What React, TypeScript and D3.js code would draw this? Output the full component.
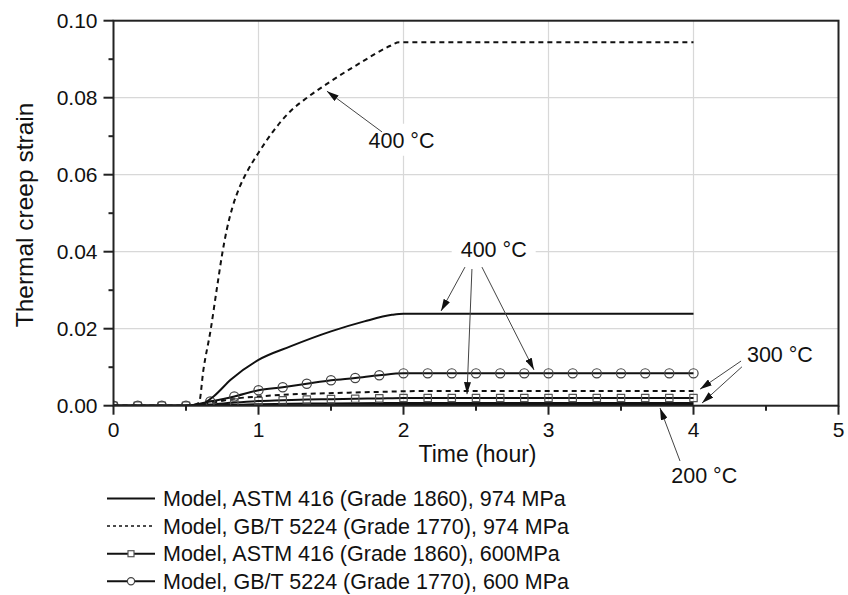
import React from "react";
import * as d3 from "d3";

// ---------- data ----------
// ASTM 416, 974 MPa, 400 °C (solid)
const astm974_400_x = [0, 0.55, 0.6, 0.69, 0.81, 1.0, 1.22, 1.5, 1.73, 1.92, 2.0, 4.0];
const astm974_400_y = [0, 0, 0.0002, 0.0024, 0.0068, 0.0119, 0.0154, 0.0193, 0.0219, 0.0236, 0.0239, 0.0239];
// GB/T 5224, 974 MPa, 400 °C (dashed)
const gbt974_400_x = [0, 0.5, 0.55, 0.59, 0.62, 0.67, 0.715, 0.75, 0.78, 0.82, 0.87, 0.92, 1.0, 1.1, 1.22, 1.335, 1.5, 1.7, 1.91, 1.97, 4.0];
const gbt974_400_y = [0, 0, 0.0002, 0.0008, 0.0093, 0.0197, 0.031, 0.0395, 0.0455, 0.0515, 0.0568, 0.0607, 0.0657, 0.0712, 0.0765, 0.08, 0.0843, 0.089, 0.0935, 0.0944, 0.0944];
// GB/T 5224, 974 MPa, 300 °C (dashed)
const gbt974_300_x = [0, 0.55, 0.7, 0.83, 1.0, 1.15, 1.54, 1.84, 2.1, 4.0];
const gbt974_300_y = [0, 0, 0.0009, 0.0018, 0.0024, 0.0028, 0.0033, 0.0036, 0.0038, 0.0038];
// ASTM 416, 974 MPa, 300 °C (solid)
const astm974_300_x = [0, 0.6, 1.0, 1.5, 2.0, 4.0];
const astm974_300_y = [0, 0, 0.0004, 0.0006, 0.0007, 0.0007];
// ASTM 416, 974 MPa, 200 °C (solid)
const astm974_200_x = [0, 0.6, 2.0, 4.0];
const astm974_200_y = [0, 0, 0.0002, 0.0002];
// marker series sample times (hours)
const markerTimes = [0, 0.167, 0.333, 0.5, 0.667, 0.833, 1.0, 1.167, 1.333, 1.5, 1.667, 1.833, 2.0, 2.167, 2.333, 2.5, 2.667, 2.833, 3.0, 3.167, 3.333, 3.5, 3.667, 3.833, 4.0];
// ASTM 416, 600 MPa, 400 °C (squares)
const astm600_y = [0, 0, 0, 0, 0.0003, 0.0008, 0.0012, 0.0014, 0.0016, 0.0017, 0.0018, 0.0019, 0.002, 0.002, 0.002, 0.002, 0.002, 0.002, 0.002, 0.002, 0.002, 0.002, 0.002, 0.002, 0.002];
// GB/T 5224, 600 MPa, 400 °C (circles)
const gbt600_y = [0, 0, 0, 0, 0.0011, 0.0024, 0.004, 0.0048, 0.0057, 0.0066, 0.0072, 0.0079, 0.0084, 0.0084, 0.0084, 0.0084, 0.0084, 0.0084, 0.0084, 0.0084, 0.0084, 0.0084, 0.0084, 0.0084, 0.0084];

const xTickValues = [0, 1, 2, 3, 4, 5];
const xTickLabels = ["0", "1", "2", "3", "4", "5"];
const xMinorTicks = [0.5, 1.5, 2.5, 3.5, 4.5];
const yTickValues = [0, 0.02, 0.04, 0.06, 0.08, 0.1];
const yTickLabels = ["0.00", "0.02", "0.04", "0.06", "0.08", "0.10"];
const yMinorTicks = [0.01, 0.03, 0.05, 0.07, 0.09];

const legendLabels = [
  "Model, ASTM 416 (Grade 1860), 974 MPa",
  "Model, GB/T 5224 (Grade 1770), 974 MPa",
  "Model, ASTM 416 (Grade 1860), 600MPa",
  "Model, GB/T 5224 (Grade 1770), 600 MPa",
];

// annotations in data units: label, text centre (x, baseline y), arrows [fromX, fromY, toX, toY]
const annoLabels = ["400 °C", "400 °C", "300 °C", "200 °C"];
const annoTextX = [1.986, 2.622, 4.596, 4.074];
const annoTextY = [0.067, 0.0387, 0.01125, -0.0202];
const annoArrows = [
  [[1.852, 0.0711, 1.472, 0.0817]],
  [
    [2.424, 0.036, 2.259, 0.0246],
    [2.472, 0.0355, 2.438, 0.003],
    [2.541, 0.036, 2.9, 0.0093],
  ],
  [
    [4.328, 0.0116, 4.045, 0.0043],
    [4.334, 0.0101, 4.059, 0.0007],
  ],
  [[3.907, -0.01436, 3.769, -0.0006]],
];

// ---------- layout ----------
const W = 848;
const H = 595;
const L = 113.5;
const R = 838.5;
const T = 20.7;
const B = 405.7;
const FONT = "'Liberation Sans', Arial, Helvetica, sans-serif";

const zip = (xs: number[], ys: number[]) => xs.map((x, i) => [x, ys[i]] as [number, number]);

export default function App() {
  const x = d3.scaleLinear().domain([0, 5]).range([L, R]);
  const y = d3.scaleLinear().domain([0, 0.1]).range([B, T]);
  const line = d3
    .line<[number, number]>()
    .x((d) => x(d[0]))
    .y((d) => y(d[1]))
    .curve(d3.curveMonotoneX);

  const squares = zip(markerTimes, astm600_y);
  const circles = zip(markerTimes, gbt600_y);

  const legendY0 = 498.5;
  const legendDy = 27.6;

  return (
    <svg
      width={W}
      height={H}
      style={{ position: "absolute", left: 0, top: 0, background: "#fff" }}
      fontFamily={FONT}
    >
      <defs>
        <clipPath id="plotclip">
          <rect x={L} y={T} width={R - L} height={B - T} />
        </clipPath>
        <marker
          id="ah"
          viewBox="0 0 12 7"
          refX={12}
          refY={3.5}
          markerWidth={12}
          markerHeight={7}
          markerUnits="userSpaceOnUse"
          orient="auto"
        >
          <path d="M0,0L12,3.5L0,7z" fill="#111" />
        </marker>
      </defs>
      <rect x={0} y={0} width={W} height={H} fill="#fff" />

      {/* grid */}
      <g stroke="#d8d8d8" strokeWidth={1.2}>
        {xTickValues.slice(1, -1).map((v) => (
          <line key={"gx" + v} x1={x(v)} x2={x(v)} y1={T} y2={B} />
        ))}
        {yTickValues.slice(1, -1).map((v) => (
          <line key={"gy" + v} x1={L} x2={R} y1={y(v)} y2={y(v)} />
        ))}
      </g>

      {/* series */}
      <g clipPath="url(#plotclip)" fill="none" strokeLinejoin="round">
        <path d={line(zip(astm974_200_x, astm974_200_y)) || ""} stroke="#111" strokeWidth={2} />
        <path d={line(zip(astm974_300_x, astm974_300_y)) || ""} stroke="#111" strokeWidth={2} />
        <path d={line(zip(gbt974_300_x, gbt974_300_y)) || ""} stroke="#111" strokeWidth={2} strokeDasharray="5,4" />
        <path d={line(squares) || ""} stroke="#111" strokeWidth={2} />
        {squares.map((d, i) => (
          <rect
            key={"s" + i}
            x={x(d[0]) - 3.7}
            y={y(d[1]) - 3.7}
            width={7.4}
            height={7.4}
            fill="none"
            stroke="#555"
            strokeWidth={1.2}
          />
        ))}
        <path d={line(circles) || ""} stroke="#111" strokeWidth={2} />
        {circles.map((d, i) => (
          <circle key={"c" + i} cx={x(d[0])} cy={y(d[1])} r={4.6} fill="none" stroke="#444" strokeWidth={1.2} />
        ))}
        <path d={line(zip(astm974_400_x, astm974_400_y)) || ""} stroke="#111" strokeWidth={2} />
        <path d={line(zip(gbt974_400_x, gbt974_400_y)) || ""} stroke="#111" strokeWidth={2} strokeDasharray="5,4" />
      </g>

      {/* frame */}
      <rect x={L} y={T} width={R - L} height={B - T} fill="none" stroke="#222" strokeWidth={2} />

      {/* ticks */}
      <g stroke="#222" strokeWidth={2}>
        {xTickValues.map((v) => (
          <line key={"xt" + v} x1={x(v)} x2={x(v)} y1={B} y2={B + 9} />
        ))}
        {xMinorTicks.map((v) => (
          <line key={"xm" + v} x1={x(v)} x2={x(v)} y1={B} y2={B + 5} />
        ))}
        {yTickValues.map((v) => (
          <line key={"yt" + v} x1={L - 10} x2={L} y1={y(v)} y2={y(v)} />
        ))}
        {yMinorTicks.map((v) => (
          <line key={"ym" + v} x1={L - 5} x2={L} y1={y(v)} y2={y(v)} />
        ))}
      </g>
      <g fontSize={21} fill="#111">
        {xTickValues.map((v, i) => (
          <text key={"xl" + v} x={x(v)} y={437} textAnchor="middle">
            {xTickLabels[i]}
          </text>
        ))}
        {yTickValues.map((v, i) => (
          <text key={"yl" + v} x={L - 16} y={y(v) + 7.5} textAnchor="end">
            {yTickLabels[i]}
          </text>
        ))}
      </g>

      {/* axis titles */}
      <text x={477.5} y={462} fontSize={23} textAnchor="middle" fill="#111">
        Time (hour)
      </text>
      <text transform={`translate(33,215) rotate(-90)`} fontSize={24.5} textAnchor="middle" fill="#111">
        Thermal creep strain
      </text>

      {/* annotations */}
      {annoLabels.map((lab, i) => {
        const cx = x(annoTextX[i]);
        const by = y(annoTextY[i]);
        const tw = 66;
        return (
          <g key={"an" + i}>
            <rect x={cx - tw / 2 - 9} y={by - 24} width={tw + 18} height={32} fill="#fff" />
            <text x={cx} y={by} fontSize={21.5} textAnchor="middle" fill="#111">
              {lab}
            </text>
            {annoArrows[i].map((a, j) => (
              <line
                key={"ar" + j}
                x1={x(a[0])}
                y1={y(a[1])}
                x2={x(a[2])}
                y2={y(a[3])}
                stroke="#444"
                strokeWidth={1}
                markerEnd="url(#ah)"
              />
            ))}
          </g>
        );
      })}

      {/* legend */}
      {legendLabels.map((lab, i) => {
        const cy = legendY0 + i * legendDy;
        return (
          <g key={"lg" + i}>
            <line
              x1={107}
              x2={155}
              y1={cy}
              y2={cy}
              stroke="#111"
              strokeWidth={i === 1 ? 1.5 : 2}
              strokeDasharray={i === 1 ? "3,3" : undefined}
            />
            {i === 2 && <rect x={131 - 3} y={cy - 3} width={6} height={6} fill="#fff" stroke="#555" strokeWidth={1.2} />}
            {i === 3 && <circle cx={131} cy={cy} r={3.6} fill="#fff" stroke="#444" strokeWidth={1.2} />}
            <text x={163} y={cy + 7.7} fontSize={21.5} fill="#111">
              {lab}
            </text>
          </g>
        );
      })}
    </svg>
  );
}
